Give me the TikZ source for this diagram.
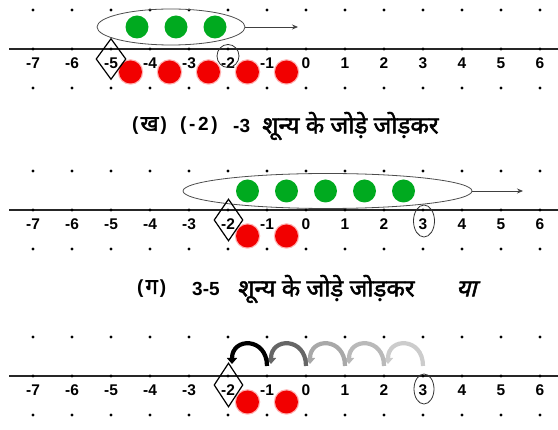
\documentclass[tikz,border=0pt]{standalone}
\usepackage{fontspec}
\setmainfont{Liberation Sans}
\newfontfamily\devfont[Script=Devanagari,FakeBold=2]{Noto Sans}
\newfontfamily\devsl[Script=Devanagari,FakeSlant=0.25,FakeBold=2]{Noto Sans}
\newfontfamily\latwide[LetterSpace=14]{Liberation Sans}
\usetikzlibrary{shapes.geometric,arrows.meta,calc}
\newcommand{\latx}[1]{{\bfseries #1}}
\tikzset{
  dotm/.style={circle,fill=black,inner sep=0pt,minimum size=3.2pt},
  axlbl/.style={font=\fontsize{15.5}{15.5}\selectfont\bfseries,inner sep=0pt},
  axline/.style={line width=1.1pt,black!85},
  gball/.style={circle,fill=green!62!black!88!cyan,inner sep=0pt,minimum size=23pt},
  rglow/.style={circle,fill=red!30,inner sep=0pt,minimum size=25.5pt},
  rball/.style={circle,fill=red!95!black,inner sep=0pt,minimum size=23pt},
  grp/.style={ellipse,draw=black!70,line width=0.8pt,inner sep=0pt},
  markbox/.style={diamond,draw=black,line width=1.2pt,inner sep=0pt},
  ring/.style={ellipse,draw=black!80,line width=0.8pt,inner sep=0pt},
  movearrow/.style={draw=black!75,line width=0.8pt,-{Stealth[length=6pt,width=5pt]}},
  captxt/.style={font=\fontsize{19}{19}\selectfont,inner sep=0pt},
  devtxt/.style={font=\fontsize{24}{24}\selectfont,inner sep=0pt},
  hop/.style={line width=4.2pt,-{Triangle[length=6pt,width=10pt]}},
}
\begin{document}
\begin{tikzpicture}[x=1pt,y=-1pt]
\useasboundingbox (0,0) rectangle (558,430);
% ---------- axes, dots, labels ----------
\foreach \p/\A in {a/49,b/210,c/376}{
  \draw[axline] (9,\A) -- (558,\A);
  \foreach \k in {-7,...,6}{
    \pgfmathsetmacro{\xx}{33+39*(\k+7)}
    \node[dotm] (\p t\k) at (\xx,\A-39) {};
    \node[dotm] (\p m\k) at (\xx,\A) {};
    \node[dotm] (\p b\k) at (\xx,\A+39) {};
    \node[axlbl] (\p l\k) at (\xx,\A+14) {\k};
  }
}
% ---------- panel 1 ----------
\node[grp,minimum width=148pt,minimum height=36pt] (e1) at (171,27) {};
\coordinate (e1end) at (298,27);
\draw[movearrow] (e1.east) -- (e1end);
\foreach \x [count=\i] in {137,176,215}{\node[gball] (g1\i) at (\x,27) {};}
\foreach \x [count=\i] in {130.5,169.5,208.5,247.5,286.5}{
  \node[rglow] (rr1\i) at (\x,72) {};
  \node[rball] (r1\i) at (\x,72) {};}
\node[markbox,minimum width=30pt,minimum height=41pt] (d1) at (111,59) {};
\node[ring,minimum width=22pt,minimum height=23pt] (o1) at (228,56) {};
% ---------- caption 1 ----------
\node[captxt,anchor=west] (c1a) at (132,126) {\latx{(}\hspace{2pt}{\devfont\fontsize{22}{22}\selectfont ख}\hspace{2pt}\latx{)}};
\node[captxt,anchor=west] (c1b) at (180,126) {{\latwide\bfseries (-2)}};
\node[captxt,anchor=west] (c1c) at (233,126) {\latx{-3}};
\node[devtxt,anchor=west] (c1d) at (262,126) {\devfont शून्य के जोड़े जोड़कर};
% ---------- panel 2 ----------
\node[grp,minimum width=289pt,minimum height=35pt] (e2) at (327.5,191) {};
\coordinate (e2end) at (523,191);
\draw[movearrow] (e2.east) -- (e2end);
\foreach \x [count=\i] in {247.5,286.5,325.5,364.5,403.5}{\node[gball] (g2\i) at (\x,191) {};}
\foreach \x [count=\i] in {247.5,286.5}{
  \node[rglow] (rr2\i) at (\x,236) {};
  \node[rball] (r2\i) at (\x,236) {};}
\node[markbox,minimum width=29pt,minimum height=42pt] (d2) at (228.5,220) {};
\node[ring,minimum width=21pt,minimum height=32pt] (o2) at (424,221) {};
% ---------- caption 2 ----------
\node[captxt,anchor=west] (c2a) at (137,289) {\latx{(}\hspace{2pt}{\devfont\fontsize{22}{22}\selectfont ग}\hspace{2pt}\latx{)}};
\node[captxt,anchor=west] (c2b) at (192,289) {\latx{3-5}};
\node[devtxt,anchor=west] (c2c) at (238,289) {\devfont शून्य के जोड़े जोड़कर};
\node[devtxt,anchor=west] (c2d) at (456,289) {\devsl या};
% ---------- panel 3 ----------
\foreach \x [count=\i] in {247.5,286.5}{
  \node[rglow] (rr3\i) at (\x,402) {};
  \node[rball] (r3\i) at (\x,402) {};}
\node[markbox,minimum width=29pt,minimum height=44pt] (d3) at (228.5,385) {};
\node[ring,minimum width=20pt,minimum height=30pt] (o3) at (424,389) {};
\foreach \k/\x in {3/423,2/384,1/345,0/306,-1/267,-2/228}{
  \coordinate (h\k) at (\x,366);
  \coordinate (f\k) at (\x+4,364);}
\foreach \a/\b/\c in {3/2/gray!40,2/1/gray!55,1/0/gray!68,0/-1/gray!80!black,-1/-2/black}{
  \draw[hop,\c] (h\a) .. controls ($(h\a)+(0,-29)$) and ($(f\b)+(0,-27)$) .. (f\b);}
\end{tikzpicture}
\end{document}
